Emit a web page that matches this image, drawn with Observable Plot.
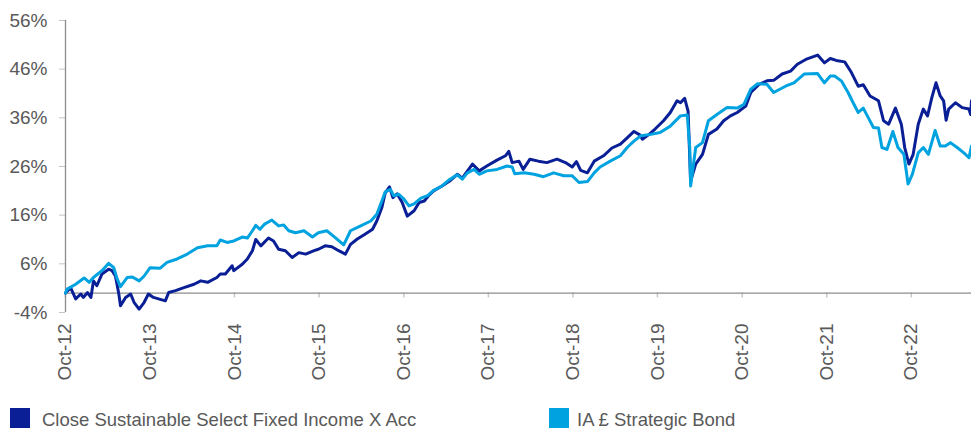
<!DOCTYPE html>
<html>
<head>
<meta charset="utf-8">
<script src="https://cdn.jsdelivr.net/npm/d3@7"></script>
<script src="https://cdn.jsdelivr.net/npm/@observablehq/plot@0.6"></script>
<style>
  html, body { margin: 0; padding: 0; background: #fff; }
  #wrap { position: relative; width: 971px; height: 430px; font-family: "Liberation Sans", Arial, sans-serif; color: #595959; }
  .sw { position: absolute; width: 20px; height: 20px; }
  .lt { position: absolute; font-size: 18.5px; line-height: 20px; white-space: nowrap; }
</style>
</head>
<body>
<div id="wrap"></div>
<script>
// ---- Data (cumulative % performance) ----
const seriesNames = ["Close Sustainable Select Fixed Income X Acc", "IA £ Strategic Bond"];
const seriesColors = ["#0a1f96", "#00a3e0"];

const fundT = [2012.75, 2012.81, 2012.87, 2012.93, 2012.96, 2013.01, 2013.05, 2013.08, 2013.12, 2013.18,
  2013.26, 2013.30, 2013.34, 2013.38, 2013.40, 2013.46, 2013.52, 2013.56, 2013.62, 2013.68,
  2013.73, 2013.79, 2013.87, 2013.93, 2013.97, 2014.05, 2014.15, 2014.27, 2014.35, 2014.43,
  2014.54, 2014.58, 2014.64, 2014.72, 2014.74, 2014.84, 2014.90, 2014.96, 2015.00, 2015.06,
  2015.15, 2015.21, 2015.27, 2015.35, 2015.43, 2015.51, 2015.59, 2015.69, 2015.74, 2015.82,
  2015.90, 2015.98, 2016.06, 2016.12, 2016.20, 2016.30, 2016.38, 2016.43, 2016.49, 2016.53,
  2016.58, 2016.62, 2016.67, 2016.73, 2016.79, 2016.87, 2016.93, 2016.99, 2017.04, 2017.10,
  2017.20, 2017.29, 2017.38, 2017.44, 2017.56, 2017.64, 2017.73, 2017.85, 2017.95, 2017.99,
  2018.03, 2018.11, 2018.16, 2018.24, 2018.34, 2018.44, 2018.56, 2018.66, 2018.74, 2018.79,
  2018.84, 2018.92, 2019.00, 2019.11, 2019.21, 2019.31, 2019.39, 2019.47, 2019.54, 2019.57,
  2019.65, 2019.72, 2019.82, 2019.90, 2019.98, 2020.02, 2020.07, 2020.11, 2020.14, 2020.20,
  2020.28, 2020.35, 2020.45, 2020.53, 2020.61, 2020.69, 2020.79, 2020.85, 2020.95, 2021.04,
  2021.12, 2021.22, 2021.32, 2021.40, 2021.50, 2021.64, 2021.72, 2021.79, 2021.86, 2021.96,
  2022.04, 2022.12, 2022.18, 2022.26, 2022.36, 2022.42, 2022.48, 2022.56, 2022.63, 2022.67,
  2022.72, 2022.77, 2022.83, 2022.89, 2022.94, 2022.99, 2023.04, 2023.09, 2023.13, 2023.16,
  2023.19, 2023.27, 2023.35, 2023.43, 2023.45, 2023.46];
const fundV = [0, 1.1, -1.2, -0.2, -0.9, 0.1, -0.9, 2.5, 1.5, 3.9,
  4.9, 4.6, 3.5, -0.2, -2.6, -0.9, -0.2, -1.9, -3.3, -1.9,
  -0.2, -0.9, -1.3, -1.6, 0.1, 0.5, 1.1, 1.8, 2.5, 2.2,
  3.2, 3.9, 3.9, 5.6, 4.6, 5.9, 7.0, 8.7, 11.0, 9.7,
  11.3, 10.7, 9.0, 8.7, 7.3, 8.3, 8.0, 8.7, 9.0, 9.7,
  9.5, 8.7, 8.0, 10.0, 11.1, 12.2, 13.1, 14.8, 17.6, 20.6,
  21.8, 19.6, 20.4, 18.6, 15.8, 16.9, 18.6, 18.9, 20.0, 21.0,
  22.0, 23.0, 24.4, 23.6, 26.5, 25.1, 26.1, 27.3, 28.2, 29.1,
  26.8, 27.1, 25.4, 27.5, 27.1, 26.8, 27.5, 26.8, 25.9, 27.0,
  25.2, 24.7, 27.1, 28.2, 29.8, 30.6, 31.9, 33.2, 32.5, 31.6,
  32.6, 33.7, 35.4, 37.1, 39.5, 39.1, 40.0, 37.4, 23.0, 26.5,
  28.5, 32.6, 33.7, 35.4, 36.4, 37.1, 38.4, 41.2, 42.9, 43.6,
  43.7, 45.0, 45.6, 47.0, 48.0, 48.9, 47.3, 48.2, 47.8, 47.5,
  45.3, 42.5, 42.8, 40.5, 39.5, 35.4, 34.7, 38.0, 34.7, 29.9,
  26.5, 28.5, 34.7, 37.8, 36.4, 40.1, 43.2, 40.5, 39.5, 35.5,
  37.8, 39.1, 38.1, 37.8, 36.7, 39.5];

const sectorT = [2012.75, 2012.77, 2012.87, 2012.97, 2013.03, 2013.08, 2013.18, 2013.26, 2013.32, 2013.36,
  2013.40, 2013.48, 2013.54, 2013.62, 2013.68, 2013.75, 2013.87, 2013.95, 2014.07, 2014.19,
  2014.31, 2014.43, 2014.54, 2014.58, 2014.66, 2014.74, 2014.84, 2014.90, 2014.96, 2015.00,
  2015.05, 2015.10, 2015.19, 2015.27, 2015.33, 2015.39, 2015.47, 2015.57, 2015.67, 2015.74,
  2015.84, 2015.94, 2016.04, 2016.12, 2016.24, 2016.36, 2016.43, 2016.49, 2016.53, 2016.59,
  2016.63, 2016.69, 2016.75, 2016.81, 2016.87, 2016.95, 2017.03, 2017.10, 2017.20, 2017.28,
  2017.38, 2017.44, 2017.50, 2017.58, 2017.64, 2017.73, 2017.85, 2017.97, 2018.03, 2018.06,
  2018.17, 2018.29, 2018.40, 2018.52, 2018.64, 2018.74, 2018.82, 2018.92, 2019.00, 2019.07,
  2019.19, 2019.31, 2019.39, 2019.47, 2019.55, 2019.67, 2019.78, 2019.90, 2020.02, 2020.10,
  2020.13, 2020.14, 2020.20, 2020.28, 2020.35, 2020.45, 2020.57, 2020.69, 2020.77, 2020.85,
  2020.93, 2021.04, 2021.12, 2021.26, 2021.36, 2021.48, 2021.64, 2021.72, 2021.79, 2021.84,
  2021.92, 2022.00, 2022.06, 2022.12, 2022.18, 2022.24, 2022.30, 2022.36, 2022.40, 2022.46,
  2022.53, 2022.59, 2022.66, 2022.71, 2022.76, 2022.83, 2022.89, 2022.95, 2023.03, 2023.09,
  2023.15, 2023.21, 2023.29, 2023.37, 2023.43, 2023.46];
const sectorV = [0, 0.8, 1.8, 3.1, 2.2, 3.2, 4.6, 6.1, 5.2, 2.9,
  1.3, 3.2, 3.3, 2.5, 3.5, 5.2, 5.1, 6.3, 7.0, 8.0,
  9.3, 9.7, 9.7, 10.9, 10.4, 10.7, 11.5, 11.3, 12.8, 13.9,
  13.1, 14.1, 15.0, 13.8, 14.0, 12.8, 12.4, 12.8, 11.5, 12.4,
  12.8, 11.4, 9.9, 12.8, 13.8, 14.8, 16.2, 18.9, 20.8, 21.3,
  20.0, 20.3, 19.3, 17.9, 18.3, 19.5, 20.0, 21.1, 22.0, 23.2,
  24.3, 23.4, 24.7, 25.4, 24.4, 25.1, 25.4, 26.1, 25.9, 24.5,
  24.7, 24.4, 23.9, 24.7, 24.1, 24.1, 22.7, 22.9, 24.7, 25.9,
  27.1, 28.2, 29.9, 31.2, 32.3, 32.6, 33.0, 34.3, 36.4, 36.6,
  29.9, 22.0, 29.9, 30.9, 35.4, 36.7, 38.1, 38.0, 38.8, 41.9,
  43.0, 42.9, 41.2, 42.5, 43.2, 45.0, 45.1, 43.2, 44.6, 44.6,
  43.6, 41.2, 39.1, 37.1, 38.0, 36.0, 34.0, 33.9, 29.9, 29.5,
  33.2, 29.9, 28.5, 22.4, 24.4, 28.8, 29.9, 28.5, 33.4, 30.2,
  30.2, 30.9, 29.9, 28.8, 27.8, 30.2];

const yTicks = [-4, 6, 16, 26, 36, 46, 56];
const xTickLabels = ["Oct-12", "Oct-13", "Oct-14", "Oct-15", "Oct-16", "Oct-17", "Oct-18", "Oct-19", "Oct-20", "Oct-21", "Oct-22"];
const xStart = 2012.75, xEnd = 2023.46;

// ---- helpers ----
function yearToDate(t) {
  const y = Math.floor(t);
  const a = Date.UTC(y, 0, 1), b = Date.UTC(y + 1, 0, 1);
  return new Date(a + (t - y) * (b - a));
}
const parseTick = d3.utcParse("%b-%y");
const fmtTick = d3.utcFormat("%b-%y");
const tickDates = xTickLabels.map(parseTick);
const fund = fundT.map((t, i) => ({date: yearToDate(t), value: fundV[i]}));
const sector = sectorT.map((t, i) => ({date: yearToDate(t), value: sectorV[i]}));

const chart = Plot.plot({
  width: 971,
  height: 400,
  marginLeft: 65,
  marginRight: 0,
  marginTop: 20,
  marginBottom: 88,
  style: {fontFamily: '"Liberation Sans", Arial, sans-serif', fontSize: "19px", color: "#595959", background: "#fff", overflow: "visible"},
  x: {type: "utc", domain: [yearToDate(xStart), yearToDate(xEnd)], label: null},
  y: {domain: [-4, 56], label: null},
  marks: [
    Plot.axisY({ticks: yTicks, tickFormat: d => d + "%", tickSize: 6, tickPadding: 12, stroke: "#c4c4c4", fill: "#595959", label: null}),
    Plot.axisX({ticks: tickDates, tickFormat: fmtTick, tickSize: 0, tickPadding: 11, tickRotate: -90, fill: "#595959", label: null}),
    Plot.ruleX(tickDates, {y1: 0, y2: -1, stroke: "#c8c8c8", strokeWidth: 1.5}),
    Plot.ruleY([0], {stroke: "#8c8c8c", strokeWidth: 1.3}),
    Plot.ruleX([yearToDate(xStart)], {stroke: "#8c8c8c", strokeWidth: 1.3}),
    Plot.line(fund, {x: "date", y: "value", stroke: seriesColors[0], strokeWidth: 3, strokeLinejoin: "round"}),
    Plot.line(sector, {x: "date", y: "value", stroke: seriesColors[1], strokeWidth: 3, strokeLinejoin: "round"})
  ]
});

const wrap = document.getElementById("wrap");
wrap.appendChild(chart);
const legendPos = [{sq: 10, tx: 42}, {sq: 549, tx: 577}];
seriesNames.forEach((name, i) => {
  const sw = document.createElement("div");
  sw.className = "sw";
  sw.style.left = legendPos[i].sq + "px";
  sw.style.top = "408px";
  sw.style.background = seriesColors[i];
  wrap.appendChild(sw);
  const lt = document.createElement("div");
  lt.className = "lt";
  lt.style.left = legendPos[i].tx + "px";
  lt.style.top = "410px";
  lt.textContent = name;
  wrap.appendChild(lt);
});
</script>
</body>
</html>
